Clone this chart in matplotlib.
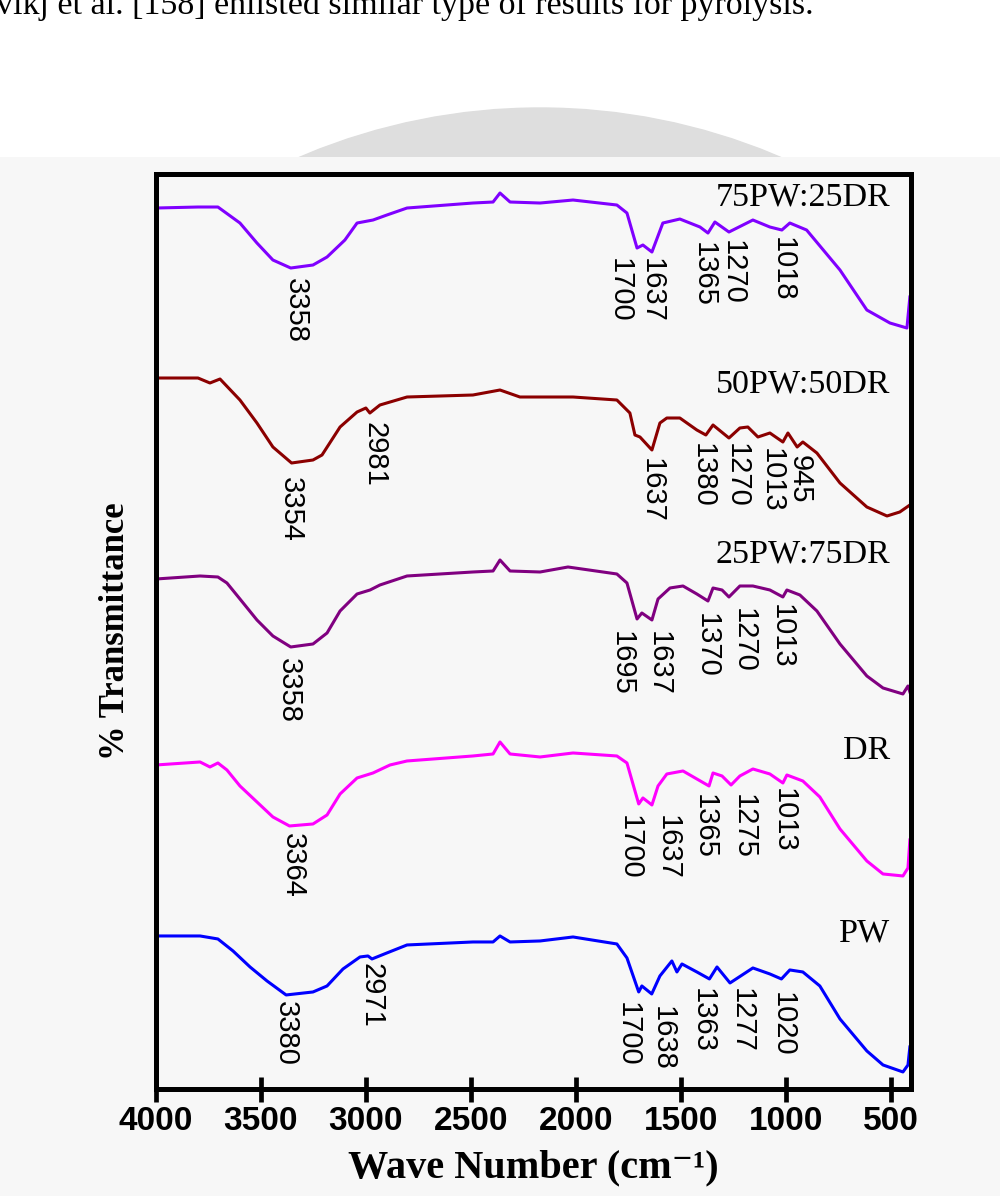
import matplotlib.pyplot as plt
from matplotlib.patches import Circle
import numpy as np

# ---- spectra (wave number, % transmittance with stacking offset) ----
wn_75 = [4000, 3800, 3705, 3600, 3519, 3443, 3358, 3252, 3185, 3100, 3042, 2966, 2900, 2804,
         2490, 2394, 2361, 2313, 2170, 2013, 1804, 1756, 1708, 1680, 1637, 1585, 1504, 1408,
         1370, 1337, 1270, 1156, 1075, 1018, 980, 900, 741, 613, 503, 422, 408]
t_75 = [88.1, 88.2, 88.2, 86.6, 84.6, 82.9, 82.1, 82.4, 83.2, 84.9, 86.6, 86.9, 87.4, 88.1,
        88.6, 88.7, 89.6, 88.7, 88.6, 88.9, 88.4, 87.6, 84.1, 84.4, 83.7, 86.6, 87.0, 86.2,
        85.6, 86.7, 85.7, 86.9, 86.2, 85.9, 86.6, 85.9, 81.9, 77.9, 76.6, 76.1, 79.2]

wn_50 = [4000, 3800, 3743, 3695, 3600, 3519, 3443, 3354, 3252, 3209, 3123, 3042, 3000, 2981,
         2933, 2804, 2490, 2361, 2266, 2170, 2013, 1804, 1742, 1718, 1694, 1637, 1599, 1566,
         1504, 1423, 1380, 1346, 1270, 1218, 1180, 1132, 1075, 1013, 989, 945, 918, 851, 741,
         613, 517, 456, 408]
t_50 = [71.1, 71.1, 70.6, 71.0, 68.9, 66.6, 64.2, 62.6, 62.9, 63.4, 66.2, 67.7, 68.1, 67.6,
        68.4, 69.2, 69.4, 69.9, 69.2, 69.2, 69.2, 68.9, 67.6, 65.4, 65.2, 63.9, 66.6, 67.1,
        67.1, 65.9, 65.4, 66.4, 65.1, 66.1, 66.2, 65.2, 65.6, 64.7, 65.6, 64.2, 64.7, 63.6, 60.6,
        58.2, 57.3, 57.7, 58.4]

wn_25 = [4000, 3790, 3705, 3662, 3600, 3519, 3443, 3358, 3252, 3185, 3123, 3042, 2980, 2933,
         2804, 2490, 2394, 2361, 2313, 2170, 2037, 1804, 1756, 1708, 1685, 1637, 1608, 1551,
         1489, 1423, 1370, 1346, 1303, 1270, 1218, 1156, 1075, 1013, 994, 932, 851, 741, 613,
         536, 441, 417, 408]
t_25 = [51.0, 51.3, 51.2, 50.6, 49.0, 46.9, 45.3, 44.2, 44.5, 45.6, 47.8, 49.5, 49.9, 50.4,
        51.3, 51.7, 51.8, 52.9, 51.8, 51.7, 52.2, 51.5, 50.6, 47.0, 47.6, 46.9, 49.0, 50.1,
        50.3, 49.5, 48.8, 50.1, 49.9, 49.2, 50.3, 50.3, 49.9, 49.2, 49.9, 49.4, 47.8, 44.5, 41.3,
        40.1, 39.5, 40.3, 39.7]

wn_dr = [4000, 3790, 3743, 3705, 3662, 3600, 3519, 3443, 3364, 3252, 3185, 3123, 3042, 2966,
         2885, 2804, 2490, 2394, 2361, 2313, 2170, 2013, 1804, 1756, 1700, 1680, 1637, 1608,
         1566, 1489, 1423, 1365, 1346, 1303, 1260, 1218, 1156, 1075, 1013, 994, 918, 837, 741,
         613, 536, 441, 417, 408]
t_dr = [32.4, 32.7, 32.2, 32.6, 31.9, 30.3, 28.7, 27.2, 26.3, 26.5, 27.4, 29.5, 31.1, 31.6,
        32.4, 32.8, 33.3, 33.5, 34.7, 33.5, 33.2, 33.6, 33.3, 32.6, 28.5, 29.1, 28.4, 30.3,
        31.5, 31.8, 31.0, 30.3, 31.6, 31.3, 30.4, 31.3, 32.0, 31.5, 30.6, 31.4, 30.8, 29.2, 26.0,
        22.8, 21.5, 21.3, 22.1, 24.9]

wn_pw = [4000, 3790, 3705, 3633, 3552, 3471, 3380, 3252, 3185, 3109, 3028, 2990, 2971, 2900,
         2804, 2490, 2394, 2361, 2313, 2170, 2013, 1804, 1756, 1700, 1685, 1638, 1599, 1542,
         1518, 1494, 1423, 1363, 1327, 1265, 1156, 1075, 1020, 980, 918, 837, 741, 613, 536,
         441, 417, 408]
t_pw = [15.3, 15.3, 15.0, 13.8, 12.2, 10.8, 9.4, 9.7, 10.3, 12.0, 13.2, 13.3, 13.0, 13.6,
        14.4, 14.7, 14.7, 15.3, 14.7, 14.8, 15.2, 14.5, 13.1, 9.7, 10.3, 9.5, 11.3, 12.8,
        11.7, 12.5, 11.7, 11.0, 12.2, 10.6, 12.1, 11.5, 11.0, 11.9, 11.7, 10.3, 7.0, 3.8, 2.4,
        1.7, 2.4, 4.2]

# ---- peak labels: text, x position, top of label ----
pk_75 = ["3358", "1700", "1637", "1365", "1270", "1018"]
pkx_75 = [3333, 1789, 1637, 1389, 1251, 1013]
pky_75 = [81.1, 83.1, 83.1, 84.7, 84.9, 85.2]

pk_50 = ["3354", "2981", "1637", "1380", "1270", "1013", "945"]
pkx_50 = [3357, 2961, 1637, 1394, 1232, 1065, 932]
pky_50 = [61.2, 66.7, 63.1, 64.6, 64.6, 64.1, 63.4]

pk_25 = ["3358", "1695", "1637", "1370", "1270", "1013"]
pkx_25 = [3366, 1780, 1604, 1375, 1199, 1018]
pky_25 = [43.1, 45.8, 45.8, 47.6, 48.1, 48.5]

pk_dr = ["3364", "1700", "1637", "1365", "1275", "1013"]
pkx_dr = [3347, 1742, 1561, 1384, 1199, 1008]
pky_dr = [25.6, 27.4, 27.4, 29.5, 29.5, 30.1]

pk_pw = ["3380", "2971", "1700", "1638", "1363", "1277", "1020"]
pkx_pw = [3381, 2971, 1751, 1584, 1394, 1208, 1013]
pky_pw = [8.8, 12.6, 8.7, 8.3, 10.1, 10.1, 9.7]

names = ["75PW:25DR", "50PW:50DR", "25PW:75DR", "DR", "PW"]
name_y = [88.4, 69.7, 52.6, 33.0, 14.7]
colors = ["#8000ff", "#8b0000", "#800080", "#ff00ff", "#0000ff"]

spectra = [(wn_75, t_75, pk_75, pkx_75, pky_75),
           (wn_50, t_50, pk_50, pkx_50, pky_50),
           (wn_25, t_25, pk_25, pkx_25, pky_25),
           (wn_dr, t_dr, pk_dr, pkx_dr, pky_dr),
           (wn_pw, t_pw, pk_pw, pkx_pw, pky_pw)]

bg = "#f7f7f7"
fig = plt.figure(figsize=(10, 11.96), dpi=100, facecolor=bg)

# page strip above the figure (cut text line + watermark arc)
top = fig.add_axes([0, 1 - 157 / 1196, 1, 157 / 1196])
top.set_xlim(0, 1000)
top.set_ylim(157, 0)
top.axis("off")
top.add_patch(plt.Rectangle((0, 0), 1000, 157, color="white", zorder=0))
top.add_patch(Circle((540, 720), 612, color="#dedede", zorder=1))
top.text(-4, 14, "vikj et al. [158] enlisted similar type of results for pyrolysis.",
         family="Liberation Serif", fontsize=24.5, va="baseline", ha="left", zorder=2)

ax = fig.add_axes([0.156, 0.0895, 0.7545, 0.765])
ax.set_facecolor(bg)

for (wn, t, pk, pkx, pky), name, ny, c in zip(spectra, names, name_y, colors):
    ax.plot(wn, t, color=c, lw=2.2)
    for s, x, y in zip(pk, pkx, pky):
        ax.text(x, y, s, rotation=270, ha="center", va="top",
                family="Liberation Sans", fontsize=21)
    ax.text(503, ny, name, ha="right", va="baseline",
            family="Liberation Serif", fontsize=24.5)

ax.set_xlim(4000, 405)
ax.set_ylim(0, 91.5)
ax.set_xticks(np.arange(4000, 499, -500))
ax.set_yticks([])
for sp in ax.spines.values():
    sp.set_linewidth(3.6)
ax.tick_params(axis="x", direction="inout", length=18, width=3.4, pad=3)
for lab in ax.get_xticklabels():
    lab.set_family("Liberation Sans")
    lab.set_fontweight("bold")
    lab.set_fontsize(24)

ax.set_xlabel("Wave Number (cm\u207b\u00b9)", family=["Liberation Serif", "DejaVu Serif"],
              fontweight="bold", fontsize=29, labelpad=9)
ax.set_ylabel("% Transmittance", family="Liberation Serif", fontweight="bold",
              fontsize=25, labelpad=17)

fig.savefig("out.png", dpi=100, facecolor=bg)
